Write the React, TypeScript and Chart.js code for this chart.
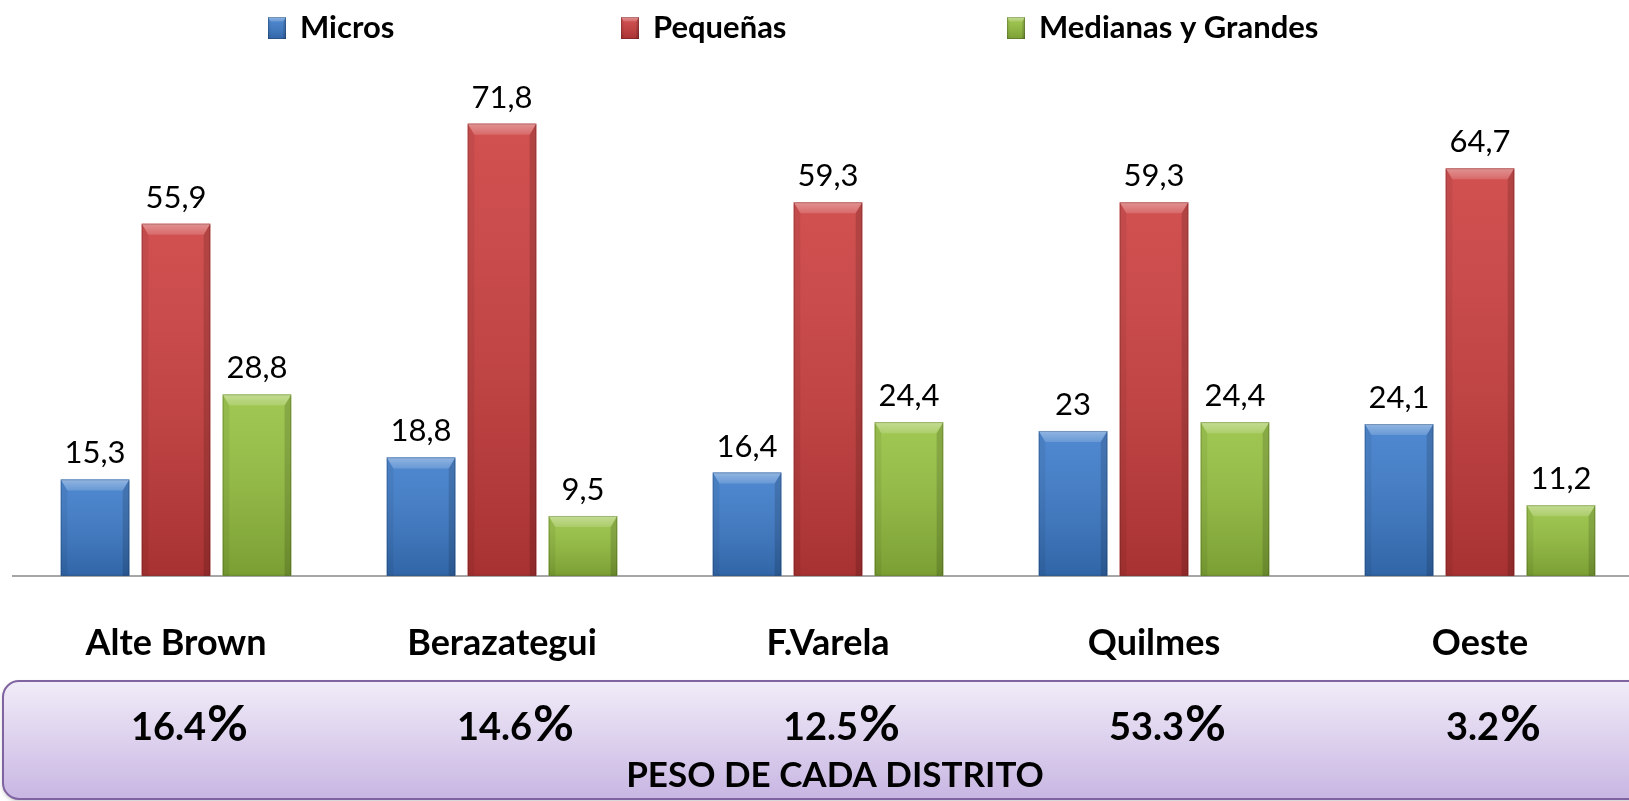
import React, { useEffect, useRef } from "react";
import { Chart, registerables } from "chart.js";

Chart.register(...registerables);

const categories = ["Alte Brown", "Berazategui", "F.Varela", "Quilmes", "Oeste"];
const seriesNames = ["Micros", "Pequeñas", "Medianas y Grandes"];
const microsValues = [15.3, 18.8, 16.4, 23, 24.1];
const pequenasValues = [55.9, 71.8, 59.3, 59.3, 64.7];
const medianasValues = [28.8, 9.5, 24.4, 24.4, 11.2];
const pesoDistrito = ["16.4", "14.6", "12.5", "53.3", "3.2"];
const pesoTitle = "PESO DE CADA DISTRITO";

const seriesColors = ["#3b7bcb", "#cc3c3c", "#95c13e"];
const FONT = "Lato, 'Open Sans', sans-serif";

function drawBevel(ctx: CanvasRenderingContext2D, x0: number, y0: number, x1: number, y1: number, color: string) {
  const w = x1 - x0;
  const h = y1 - y0;
  if (h <= 0) return;
  const b = Math.min(11, w / 4, h / 2);
  ctx.save();
  ctx.fillStyle = color;
  ctx.fillRect(x0, y0, w, h);
  const g = ctx.createLinearGradient(0, y0, 0, y1);
  g.addColorStop(0, "rgba(255,255,255,0.10)");
  g.addColorStop(1, "rgba(0,0,0,0.18)");
  ctx.fillStyle = g;
  ctx.fillRect(x0, y0, w, h);
  // left side
  ctx.fillStyle = "rgba(0,0,0,0.06)";
  ctx.beginPath();
  ctx.moveTo(x0, y0);
  ctx.lineTo(x0 + b * 0.6, y0 + b);
  ctx.lineTo(x0 + b * 0.6, y1);
  ctx.lineTo(x0, y1);
  ctx.closePath();
  ctx.fill();
  // right side
  ctx.fillStyle = "rgba(0,0,0,0.14)";
  ctx.beginPath();
  ctx.moveTo(x1, y0);
  ctx.lineTo(x1 - b * 0.6, y0 + b);
  ctx.lineTo(x1 - b * 0.6, y1);
  ctx.lineTo(x1, y1);
  ctx.closePath();
  ctx.fill();
  // top bevel
  const tg = ctx.createLinearGradient(0, y0, 0, y0 + b);
  tg.addColorStop(0, "rgba(255,255,255,0.38)");
  tg.addColorStop(1, "rgba(255,255,255,0.15)");
  ctx.fillStyle = tg;
  ctx.beginPath();
  ctx.moveTo(x0, y0);
  ctx.lineTo(x1, y0);
  ctx.lineTo(x1 - b * 0.6, y0 + b);
  ctx.lineTo(x0 + b * 0.6, y0 + b);
  ctx.closePath();
  ctx.fill();
  ctx.strokeStyle = "rgba(0,0,0,0.18)";
  ctx.lineWidth = 1;
  ctx.strokeRect(x0 + 0.5, y0 + 0.5, w - 1, h - 1);
  ctx.restore();
}

const decorPlugin = {
  id: "decor",
  afterDatasetsDraw(chart: any) {
    const ctx: CanvasRenderingContext2D = chart.ctx;
    chart.data.datasets.forEach((ds: any, di: number) => {
      const meta = chart.getDatasetMeta(di);
      meta.data.forEach((el: any, i: number) => {
        const p = el.getProps(["x", "y", "base", "width"], true);
        drawBevel(ctx, p.x - p.width / 2, p.y, p.x + p.width / 2, p.base, seriesColors[di]);
        const v = ds.data[i];
        ctx.save();
        ctx.fillStyle = "#000";
        ctx.font = `31px ${FONT}`;
        ctx.textAlign = "center";
        ctx.textBaseline = "alphabetic";
        ctx.fillText(String(v).replace(".", ","), p.x, p.y - 16);
        ctx.restore();
      });
    });
  },
  afterDraw(chart: any) {
    const ctx: CanvasRenderingContext2D = chart.ctx;
    const xScale = chart.scales.x;
    // legend
    const legendBoxX = [268, 621, 1007];
    ctx.save();
    seriesNames.forEach((name, i) => {
      drawBevel(ctx, legendBoxX[i], 17, legendBoxX[i] + 18, 39, seriesColors[i]);
      ctx.fillStyle = "#000";
      ctx.font = `bold 31px ${FONT}`;
      ctx.textAlign = "left";
      ctx.textBaseline = "middle";
      ctx.fillText(name, legendBoxX[i] + 32, 28);
    });
    ctx.restore();

    // bottom box
    ctx.save();
    const bx = 3, by = 681, bw = 1660, bh = 118;
    const g = ctx.createLinearGradient(0, by, 0, by + bh);
    g.addColorStop(0, "#f1ecf8");
    g.addColorStop(1, "#c8b6e3");
    ctx.beginPath();
    (ctx as any).roundRect(bx, by, bw, bh, 16);
    ctx.fillStyle = g;
    ctx.shadowColor = "rgba(0,0,0,0.25)";
    ctx.shadowBlur = 4;
    ctx.shadowOffsetY = 2;
    ctx.fill();
    ctx.shadowColor = "transparent";
    ctx.strokeStyle = "#8064a2";
    ctx.lineWidth = 2;
    ctx.stroke();
    ctx.restore();

    ctx.save();
    ctx.fillStyle = "#000";
    ctx.textBaseline = "alphabetic";
    ctx.textAlign = "left";
    pesoDistrito.forEach((val, i) => {
      const cx = xScale.getPixelForValue(i) + 13;
      ctx.font = `bold 38px ${FONT}`;
      const w1 = ctx.measureText(val).width;
      ctx.font = `bold 50px ${FONT}`;
      const w2 = ctx.measureText("%").width;
      const start = cx - (w1 + w2) / 2;
      ctx.font = `bold 38px ${FONT}`;
      ctx.fillText(val, start, 740);
      ctx.font = `bold 50px ${FONT}`;
      ctx.fillText("%", start + w1 + 1, 741);
    });
    ctx.font = `bold 35px ${FONT}`;
    ctx.textAlign = "center";
    ctx.fillText(pesoTitle, 835, 787);
    ctx.restore();
  },
};

export default function App() {
  const ref = useRef<HTMLCanvasElement | null>(null);
  useEffect(() => {
    if (!ref.current) return;
    const chart = new Chart(ref.current, {
      type: "bar",
      data: {
        labels: categories,
        datasets: [
          { label: seriesNames[0], data: microsValues, backgroundColor: seriesColors[0] },
          { label: seriesNames[1], data: pequenasValues, backgroundColor: seriesColors[1] },
          { label: seriesNames[2], data: medianasValues, backgroundColor: seriesColors[2] },
        ],
      },
      options: {
        responsive: false,
        animation: false,
        devicePixelRatio: 1,
        layout: { padding: { left: 13, right: 7, top: 72, bottom: 90 } },
        datasets: { bar: { categoryPercentage: 0.745, barPercentage: 0.846 } },
        plugins: { legend: { display: false }, tooltip: { enabled: false } },
        scales: {
          x: {
            grid: { display: false, drawTicks: false },
            border: { display: true, color: "#a6a6a6", width: 2 },
            ticks: { color: "#000", padding: 46, font: { family: FONT, size: 36, weight: "bold" } },
          },
          y: { display: false, min: 0, max: 80 },
        },
      },
      plugins: [decorPlugin],
    } as any);
    return () => chart.destroy();
  }, []);
  return (
    <div style={{ position: "fixed", left: 0, top: 0, width: 1629, height: 801, overflow: "hidden", background: "#fff" }}>
      <canvas ref={ref} width={1650} height={801} style={{ display: "block" }} />
    </div>
  );
}
